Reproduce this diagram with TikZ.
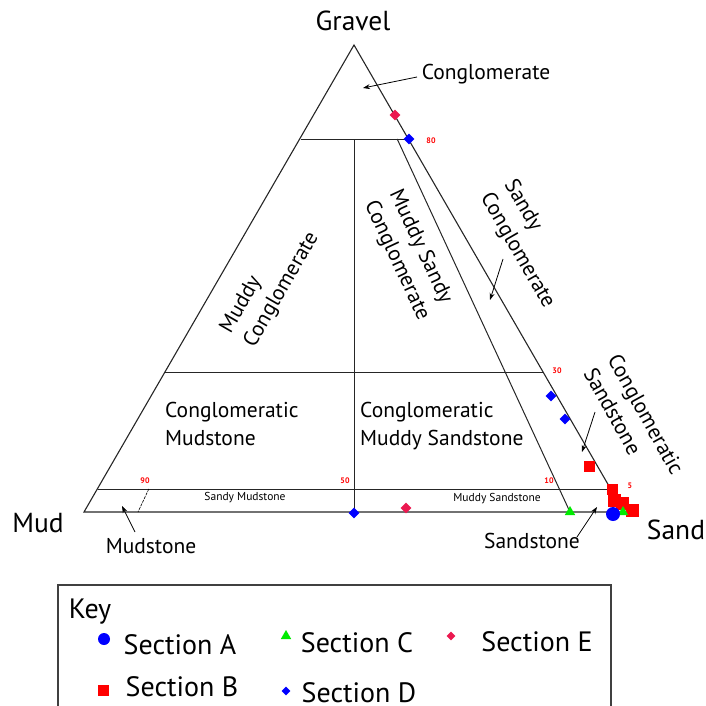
\documentclass[tikz,border=0pt]{standalone}
\usepackage{fontspec}
\setmainfont{PT Sans}
\usetikzlibrary{arrows.meta,shapes.geometric}
\definecolor{eRed}{RGB}{235,25,80}
\definecolor{bRed}{RGB}{255,0,0}
\definecolor{gGreen}{RGB}{0,235,0}
\definecolor{dBlue}{RGB}{0,0,255}
\begin{document}
\begin{tikzpicture}[x=1pt,y=-1pt,
  tri/.style={line width=1.1pt,black!85},
  bound/.style={line width=1pt,black!85},
  lbl/.style={inner sep=0pt,font=\fontsize{21.5}{27.5}\selectfont,align=left},
  big/.style={inner sep=0pt,font=\fontsize{27.5}{30}\selectfont},
  tiny/.style={inner sep=0pt,font=\fontsize{11.5}{12}\selectfont},
  num/.style={inner sep=0pt,text=red,font=\fontsize{8}{9}\selectfont\bfseries},
  keytxt/.style={inner sep=0pt,font=\fontsize{28}{30}\selectfont},
  pointer/.style={line width=0.8pt,-{Stealth[length=7pt,width=5pt]}},
  mkA/.style={circle,fill=dBlue,inner sep=0pt,minimum size=14pt},
  mkB/.style={rectangle,fill=bRed,inner sep=0pt,minimum size=11pt},
  mkC/.style={isosceles triangle,isosceles triangle apex angle=60,shape border rotate=90,fill=gGreen,inner sep=0pt,minimum size=9pt},
  mkD/.style={diamond,fill=dBlue,inner sep=0pt,minimum size=11pt},
  mkE/.style={diamond,fill=eRed,inner sep=0pt,minimum size=11pt}]
\useasboundingbox (0,0) rectangle (706,706);

% corners
\coordinate (G) at (354,45);
\coordinate (M) at (84,512);
\coordinate (S) at (624,512);
% boundary points
\coordinate (g80L) at (300.6,139);
\coordinate (g80R) at (407.4,139);
\coordinate (g30L) at (165,372);
\coordinate (g30R) at (543,372);
\coordinate (g5L) at (97.5,489);
\coordinate (g5R) at (610.5,489);
\coordinate (v80) at (354,139);
\coordinate (v0) at (354,512);
\coordinate (i80) at (397.2,139);
\coordinate (i0) at (570,512);
\coordinate (m5) at (148.8,489);
\coordinate (m0) at (138,512);

\draw[tri] (G) -- (M) -- (S) -- cycle;
\draw[bound] (g80L) -- (g80R);
\draw[bound] (g30L) -- (g30R);
\draw[bound] (g5L) -- (g5R);
\draw[bound] (v80) -- (v0);
\draw[bound] (i80) -- (i0);
\draw[line width=0.6pt,dash pattern=on 3pt off 1pt] (m5) -- (m0);

% numbers
\node[num] (n80) at (431,141) {80};
\node[num] (n30) at (557,371) {30};
\node[num] (n5) at (630,486) {5};
\node[num] (n10) at (549,481) {10};
\node[num] (n50) at (345,481) {50};
\node[num] (n90) at (145,481) {90};

% end labels
\node[big] (lGravel) at (353,21) {Gravel};
\node[big] (lMud) at (38,523) {Mud};
\node[big] (lSand) at (676,530) {Sand};

% field labels
\node[lbl] (lCong) at (486,74) {Conglomerate};
\node[lbl,rotate=60] (lMC) at (270,283) {Muddy\\Conglomerate};
\node[lbl,rotate=-65] (lMSC) at (409,255) {Muddy Sandy\\Conglomerate};
\node[lbl,rotate=-60] (lSC) at (529,244) {Sandy\\Conglomerate};
\node[lbl,rotate=-61] (lCS) at (634,421) {Conglomeratic\\Sandstone};
\node[lbl,anchor=west] (lCM) at (165,424) {Conglomeratic\\Mudstone};
\node[lbl,anchor=west] (lCMS) at (360,426) {Conglomeratic\\Muddy Sandstone};
\node[tiny] (lSM) at (245,498) {Sandy Mudstone};
\node[tiny] (lMS) at (497,499) {Muddy Sandstone};
\node[lbl] (lMst) at (151,546) {Mudstone};
\node[lbl] (lSst) at (532,541) {Sandstone};

% pointers
\coordinate (tCong) at (417,77);
\coordinate (hCong) at (363,88);
\coordinate (tSC) at (503,259);
\coordinate (hSC) at (490,300);
\coordinate (tCS) at (595,412);
\coordinate (hCS) at (582,452);
\coordinate (tMst) at (135,532);
\coordinate (hMst) at (122,506);
\coordinate (tSst) at (577,537);
\coordinate (hSst) at (597,507);
\draw[pointer] (tCong) -- (hCong);
\draw[pointer] (tSC) -- (hSC);
\draw[pointer] (tCS) -- (hCS);
\draw[pointer] (tMst) -- (hMst);
\draw[pointer] (tSst) -- (hSst);

% data points
\node[mkE] (e1) at (395,115) {};
\node[mkE] (e2) at (406,508) {};
\node[mkD] (d1) at (409,139) {};
\node[mkD] (d2) at (551,396) {};
\node[mkD] (d3) at (565,419) {};
\node[mkD] (d4) at (354,513) {};
\node[mkB] (b1) at (589,466) {};
\node[mkB] (b2) at (612,489) {};
\node[mkB,minimum size=13pt] (b3) at (614,500) {};
\node[mkB,minimum size=13pt] (b4) at (622,503) {};
\node[mkB,minimum size=13pt] (b5) at (632,510) {};
\node[mkC] (c1) at (570,512) {};
\node[mkC] (c2) at (623,512) {};
\node[mkA] (a1) at (613,514) {};

% key
\coordinate (kBL) at (57.5,706);
\coordinate (kTL) at (57.5,585);
\coordinate (kTR) at (611,585);
\coordinate (kBR) at (611,706);
\draw[line width=2pt,black!75] (kBL) -- (kTL) -- (kTR) -- (kBR);
\node[keytxt] (kKey) at (90,612) {Key};
\node[mkA,minimum size=12pt] (kA) at (104,639) {};
\node[keytxt] (kAt) at (180,645) {Section A};
\node[mkC] (kC) at (286,636) {};
\node[keytxt] (kCt) at (357,643) {Section C};
\node[mkE,minimum size=9pt] (kE) at (451,636) {};
\node[keytxt] (kEt) at (537,642) {Section E};
\node[mkB] (kB) at (103,690) {};
\node[keytxt] (kBt) at (182,687) {Section B};
\node[mkD,minimum size=9pt] (kD) at (286,691) {};
\node[keytxt] (kDt) at (359,693) {Section D};
\end{tikzpicture}
\end{document}
